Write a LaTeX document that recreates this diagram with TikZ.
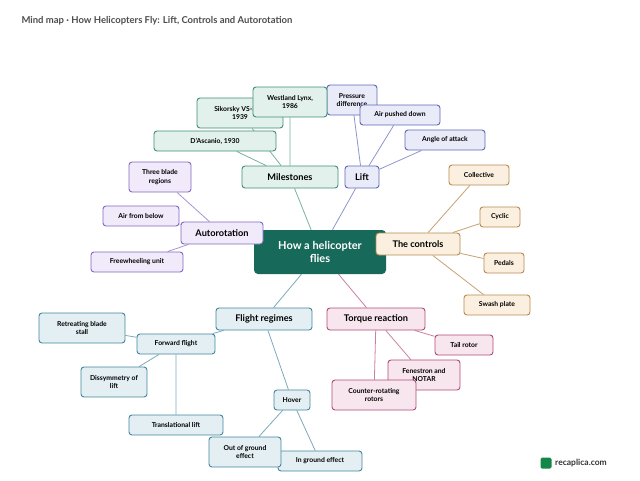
\documentclass[tikz,border=0pt]{standalone}
\usepackage{fontspec}
\setmainfont{Lato}
\usetikzlibrary{positioning}
\pgfdeclarelayer{background}
\pgfsetlayers{background,main}

\definecolor{msline}{HTML}{3E8E78}\definecolor{msfill}{HTML}{E2F1EC}
\definecolor{liline}{HTML}{5E68B4}\definecolor{lifill}{HTML}{E9EBF8}
\definecolor{coline}{HTML}{B98A50}\definecolor{cofill}{HTML}{FBF0E0}
\definecolor{toline}{HTML}{B04A7A}\definecolor{tofill}{HTML}{F8E6EE}
\definecolor{flline}{HTML}{45859C}\definecolor{flfill}{HTML}{E3EFF3}
\definecolor{auline}{HTML}{8468BE}\definecolor{aufill}{HTML}{F0EAFA}
\definecolor{rootfill}{HTML}{17695A}

\tikzset{
  box/.style={rectangle, rounded corners=3pt, line width=0.9pt, align=center, font=\bfseries\fontsize{6.8}{8.2}\selectfont, inner sep=2pt},
  topic/.style={box, font=\bfseries\fontsize{9.2}{11}\selectfont, minimum height=22pt},
  ms/.style={box, draw=msline, fill=msfill}, li/.style={box, draw=liline, fill=lifill},
  co/.style={box, draw=coline, fill=cofill}, to/.style={box, draw=toline, fill=tofill},
  fl/.style={box, draw=flline, fill=flfill}, au/.style={box, draw=auline, fill=aufill},
  link/.style={line width=0.8pt}
}

\begin{document}
\begin{tikzpicture}[x=1pt, y=-1pt]
\useasboundingbox (0,0) rectangle (640,480);

\node[anchor=west, text=black!70, font=\bfseries\fontsize{9.5}{11}\selectfont] (title) at (18,21) {Mind map · How Helicopters Fly: Lift, Controls and Autorotation};

\node[rectangle, rounded corners=4pt, fill=rootfill, text=white, align=center, minimum width=132pt, minimum height=44pt, font=\bfseries\fontsize{11}{13}\selectfont] (root) at (320,252) {How a helicopter\\flies};

% milestones
\node[ms, topic, minimum width=96pt] (miles) at (290,177) {Milestones};
\node[ms, minimum width=122pt, minimum height=20pt] (dascanio) at (215,141) {D'Ascanio, 1930};
\node[ms, minimum width=86pt, minimum height=30pt] (sikorsky) at (240,113) {Sikorsky VS-300,\\1939};
% lift
\node[li, topic, minimum width=34pt] (lift) at (362,177) {Lift};
\node[li, minimum width=50pt, minimum height=30pt] (pressure) at (352,100) {Pressure\\difference};
\node[ms, minimum width=74pt, minimum height=30pt] (lynx) at (290,102) {Westland Lynx,\\1986};
\node[li, minimum width=80pt, minimum height=20pt] (airdown) at (400,115) {Air pushed down};
\node[li, minimum width=80pt, minimum height=20pt] (angle) at (445,140) {Angle of attack};
% controls
\node[co, topic, minimum width=84pt] (controls) at (418,244) {The controls};
\node[co, minimum width=60pt, minimum height=20pt] (collective) at (479,175) {Collective};
\node[co, minimum width=40pt, minimum height=20pt] (cyclic) at (500,217) {Cyclic};
\node[co, minimum width=40pt, minimum height=20pt] (pedals) at (504,263) {Pedals};
\node[co, minimum width=66pt, minimum height=20pt] (swash) at (497,305) {Swash plate};
% torque
\node[to, topic, minimum width=98pt] (torque) at (376,319) {Torque reaction};
\node[to, minimum width=58pt, minimum height=20pt] (tail) at (464,345) {Tail rotor};
\node[to, minimum width=72pt, minimum height=30pt] (fenestron) at (424,375) {Fenestron and\\NOTAR};
\node[to, minimum width=84pt, minimum height=30pt] (counter) at (374,395) {Counter-rotating\\rotors};
% flight regimes
\node[fl, topic, minimum width=96pt] (regimes) at (264,319) {Flight regimes};
\node[fl, minimum width=78pt, minimum height=20pt] (forward) at (176,344) {Forward flight};
\node[fl, minimum width=86pt, minimum height=30pt] (retreat) at (82,328) {Retreating blade\\stall};
\node[fl, minimum width=66pt, minimum height=30pt] (dissym) at (114,382) {Dissymmetry of\\lift};
\node[fl, minimum width=94pt, minimum height=20pt] (translational) at (176,425) {Translational lift};
\node[fl, minimum width=36pt, minimum height=20pt] (hover) at (292,400) {Hover};
\node[fl, minimum width=84pt, minimum height=20pt] (inground) at (320,461) {In ground effect};
\node[fl, minimum width=72pt, minimum height=30pt] (outground) at (245,452) {Out of ground\\effect};
% autorotation
\node[au, topic, minimum width=82pt] (autorot) at (222,233) {Autorotation};
\node[au, minimum width=62pt, minimum height=30pt] (three) at (160,177) {Three blade\\regions};
\node[au, minimum width=76pt, minimum height=20pt] (airbelow) at (141,216) {Air from below};
\node[au, minimum width=92pt, minimum height=20pt] (freewheel) at (137,262) {Freewheeling unit};

% logo
\node[rectangle, rounded corners=1.5pt, fill=rootfill!80!green, minimum size=11pt, inner sep=0pt] (logo) at (546,463) {};
\node[anchor=west, font=\bfseries\fontsize{8.5}{9}\selectfont, text=black!80] (brand) at (logo.east) {recaplica.com};

\begin{pgfonlayer}{background}
\draw[link, msline!70] (root) -- (miles) (miles) -- (dascanio) (miles) -- (sikorsky) (miles) -- (lynx);
\draw[link, liline!70] (root) -- (lift) (lift) -- (pressure) (lift) -- (airdown) (lift) -- (angle);
\draw[link, coline!80] (root) -- (controls) (controls) -- (collective) (controls) -- (cyclic) (controls) -- (pedals) (controls) -- (swash);
\draw[link, toline!70] (root) -- (torque) (torque) -- (tail) (torque) -- (fenestron) (torque) -- (counter);
\draw[link, flline!70] (root) -- (regimes) (regimes) -- (forward) (regimes) -- (hover)
  (forward) -- (retreat) (forward) -- (dissym) (forward) -- (translational)
  (hover) -- (inground) (hover) -- (outground);
\draw[link, auline!70] (root) -- (autorot) (autorot) -- (three) (autorot) -- (airbelow) (autorot) -- (freewheel);
\end{pgfonlayer}
\end{tikzpicture}
\end{document}
